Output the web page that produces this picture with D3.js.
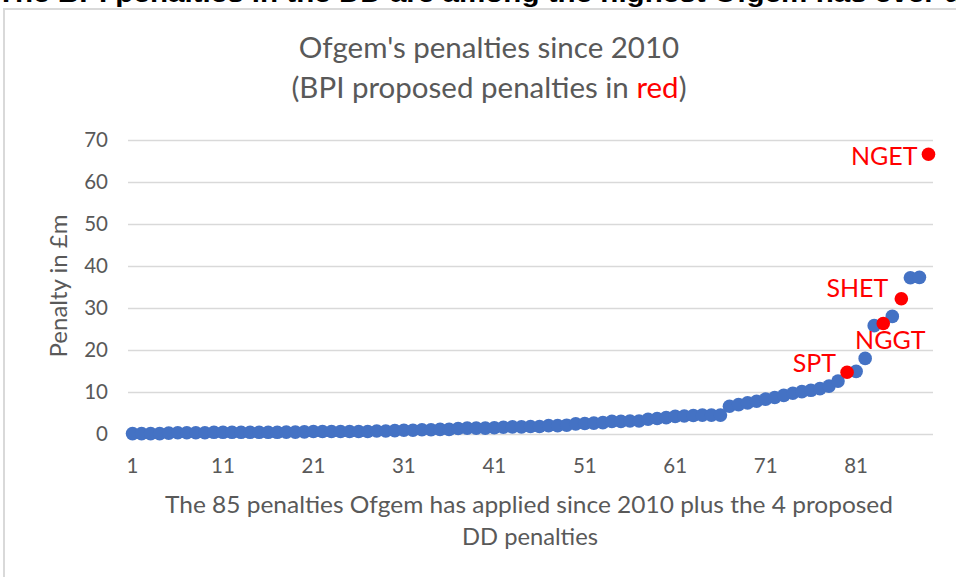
<!DOCTYPE html>
<html>
<head>
<meta charset="utf-8">
<script src="https://cdn.jsdelivr.net/npm/d3@7"></script>
<style>
  body { margin: 0; background: #fff; }
  svg { display: block; font-family: Lato, "Open Sans", sans-serif; }
</style>
</head>
<body>
<div id="chart"></div>
<script>
// the 85 penalties Ofgem has applied since 2010 (£m, sorted)
var ofgemPenalties = [
  0.1, 0.1, 0.1, 0.1,
  0.2, 0.3, 0.3, 0.3, 0.3,
  0.4, 0.4, 0.4, 0.4, 0.4, 0.4, 0.4, 0.4, 0.45, 0.45,
  0.5, 0.6, 0.6, 0.6, 0.6, 0.6, 0.6, 0.6, 0.7, 0.7,
  0.8, 0.9, 0.9,
  1.0, 1.0, 1.1, 1.1,
  1.3, 1.4, 1.4, 1.4, 1.5,
  1.6, 1.7, 1.7, 1.8, 1.8,
  2.0, 2.0, 2.1, 2.4,
  2.5, 2.6, 2.7,
  3.0, 3.0, 3.1, 3.1,
  3.5, 3.7, 3.9,
  4.2, 4.3, 4.4,
  4.5, 4.5, 4.5,
  6.6,
  7.0, 7.4, 7.8, 8.3, 8.7, 9.2, 9.7, 10.1, 10.4, 10.8, 11.4, 12.6,
  14.9, 18.0, 25.8, 28.0, 37.2, 37.3
];

// the 4 proposed DD penalties (BPI)
var proposedNames = ["SPT", "NGGT", "SHET", "NGET"];
var proposedValues = [14.7, 26.3, 32.2, 66.6];

var yTicks = [0, 10, 20, 30, 40, 50, 60, 70];
var xTicks = [1, 11, 21, 31, 41, 51, 61, 71, 81];

var width = 956, height = 577;
var blue = "#4472C4", red = "#FF0000", grey = "#595959", gridCol = "#D9D9D9";

// put everything in one ranked list
var all = ofgemPenalties.map(function (v) { return { value: v, proposed: false }; })
  .concat(proposedValues.map(function (v, i) { return { value: v, proposed: true, name: proposedNames[i] }; }));
all.sort(function (a, b) { return a.value - b.value; });
all.forEach(function (d, i) { d.rank = i + 1; });

var svg = d3.select("#chart").append("svg")
  .attr("width", width)
  .attr("height", height);

// chart area border
svg.append("rect")
  .attr("x", 4).attr("y", 9)
  .attr("width", 1000).attr("height", 1000)
  .attr("fill", "none")
  .attr("stroke", gridCol)
  .attr("stroke-width", 2);

// heading cut off at the top of the screenshot
svg.append("text")
  .attr("x", -3).attr("y", 2)
  .attr("font-family", "'Liberation Sans', Arial, sans-serif")
  .attr("font-weight", "bold")
  .attr("font-size", 26)
  .attr("textLength", 965)
  .attr("lengthAdjust", "spacingAndGlyphs")
  .attr("fill", "#000")
  .text("The BPI penalties in the DD are among the highest Ofgem has ever d");

var x = d3.scaleBand().domain(d3.range(1, all.length + 1)).range([128, 933]);
var y = d3.scaleLinear().domain([0, 70]).range([434, 140]);
var cx = function (r) { return x(r) + x.bandwidth() / 2; };

// y axis with gridlines
var yAxis = svg.append("g")
  .attr("transform", "translate(128,0)")
  .call(d3.axisLeft(y).tickValues(yTicks).tickSize(-805).tickPadding(20));
yAxis.select(".domain").remove();
yAxis.selectAll("line").attr("stroke", gridCol).attr("stroke-width", 1.5);
yAxis.selectAll("text")
  .attr("fill", grey)
  .attr("font-size", 20.5)
  .attr("font-family", "Lato, sans-serif");

// x axis (labels only)
var xAxis = svg.append("g")
  .attr("transform", "translate(0,434)")
  .call(d3.axisBottom(x).tickValues(xTicks).tickSize(0).tickPadding(24));
xAxis.select(".domain").remove();
xAxis.selectAll("text")
  .attr("fill", grey)
  .attr("font-size", 20.5)
  .attr("font-family", "Lato, sans-serif");

// titles
var title = svg.append("text")
  .attr("text-anchor", "middle")
  .attr("fill", grey)
  .attr("font-size", 29.5);
title.append("tspan").attr("x", 489).attr("y", 58).text("Ofgem's penalties since 2010");
var t2 = title.append("tspan").attr("x", 489).attr("y", 98);
t2.append("tspan").text("(BPI proposed penalties in ");
t2.append("tspan").attr("fill", red).text("red");
t2.append("tspan").text(")");

svg.append("text")
  .attr("transform", "translate(67,286) rotate(-90)")
  .attr("text-anchor", "middle")
  .attr("fill", grey)
  .attr("font-size", 24)
  .text("Penalty in £m");

svg.append("text")
  .attr("x", 165).attr("y", 513)
  .attr("textLength", 728)
  .attr("lengthAdjust", "spacingAndGlyphs")
  .attr("fill", grey)
  .attr("font-size", 24)
  .text("The 85 penalties Ofgem has applied since 2010 plus the 4 proposed");
svg.append("text")
  .attr("x", 530).attr("y", 545)
  .attr("text-anchor", "middle")
  .attr("fill", grey)
  .attr("font-size", 24)
  .attr("textLength", 136)
  .attr("lengthAdjust", "spacingAndGlyphs")
  .text("DD penalties");

// points
svg.append("g").selectAll("circle")
  .data(all.filter(function (d) { return !d.proposed; }))
  .join("circle")
  .attr("cx", function (d) { return cx(d.rank); })
  .attr("cy", function (d) { return y(d.value); })
  .attr("r", 6.8)
  .attr("fill", blue);

var prop = all.filter(function (d) { return d.proposed; });
svg.append("g").selectAll("circle")
  .data(prop)
  .join("circle")
  .attr("cx", function (d) { return cx(d.rank); })
  .attr("cy", function (d) { return y(d.value); })
  .attr("r", 6.8)
  .attr("fill", red);

// label placement tweaks (like the dragged excel labels)
var labelPos = {
  SPT: { dx: -11, dy: -9, anchor: "end" },
  NGGT: { dx: 7, dy: 16, anchor: "middle" },
  SHET: { dx: -13, dy: -11, anchor: "end" },
  NGET: { dx: -11, dy: 2, anchor: "end" }
};
svg.append("g").selectAll("text")
  .data(prop)
  .join("text")
  .attr("x", function (d) { return cx(d.rank) + labelPos[d.name].dx; })
  .attr("y", function (d) { return y(d.value) + labelPos[d.name].dy; })
  .attr("dy", "0.36em")
  .attr("text-anchor", function (d) { return labelPos[d.name].anchor; })
  .attr("fill", red)
  .attr("font-size", 25)
  .text(function (d) { return d.name; });
</script>
</body>
</html>
